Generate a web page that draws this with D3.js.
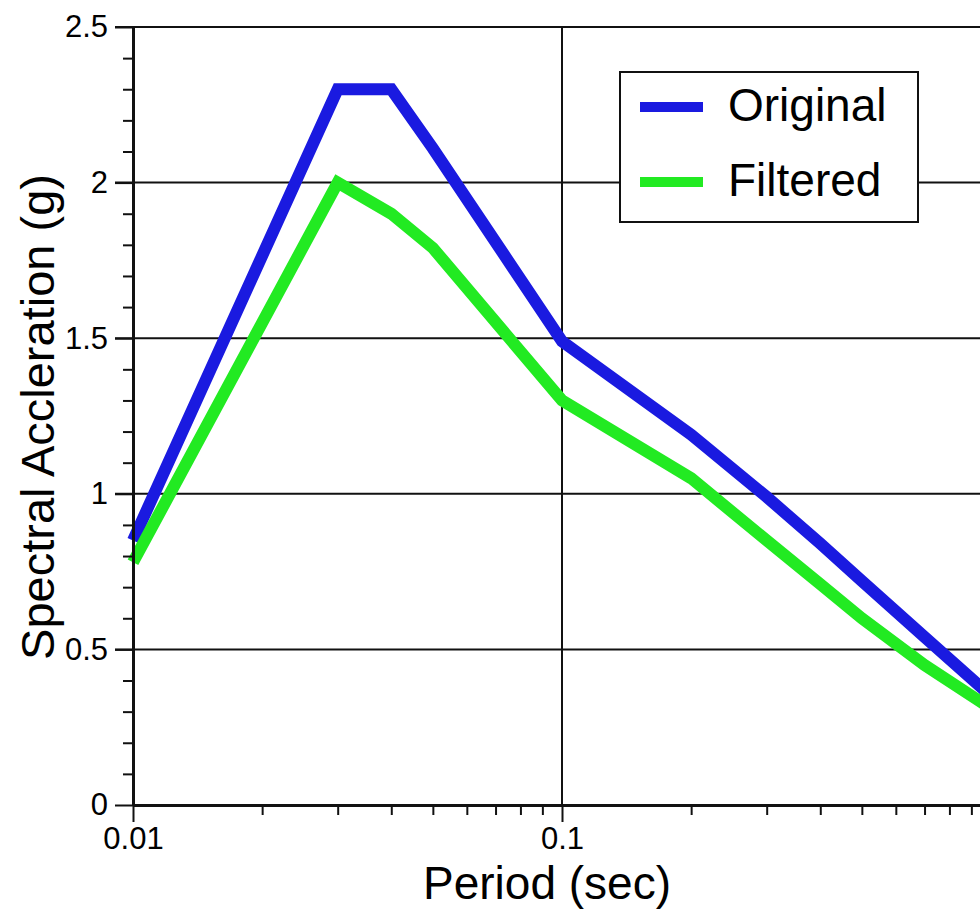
<!DOCTYPE html>
<html><head><meta charset="utf-8">
<script src="https://cdn.jsdelivr.net/npm/d3@7"></script>
<style>
body{margin:0;background:#fff}
svg{display:block}
text{font-family:"Liberation Sans",Arial,Helvetica,sans-serif;fill:#000}
</style>
</head><body><svg id="c" width="980" height="911"></svg>
<script>
// ---- data ----
const periods  = [0.01, 0.03, 0.04, 0.05, 0.1, 0.2, 0.3, 0.4, 0.5, 0.7, 1.0];
const original = [0.85, 2.30, 2.30, 2.11, 1.49, 1.19, 0.99, 0.84, 0.72, 0.54, 0.35];
const filtered = [0.78, 2.00, 1.90, 1.79, 1.30, 1.05, 0.85, 0.71, 0.60, 0.45, 0.31];
const seriesNames  = ["Original", "Filtered"];
const seriesColors = ["#1a1ae0", "#22ea22"];
const yTickValues  = [0, 0.5, 1, 1.5, 2, 2.5];
const xTickValues  = [0.01, 0.1, 1];
const xTickLabels  = ["0.01", "0.1", "1"];
const xTitle = "Period (sec)";
const yTitle = "Spectral Accleration (g)";

// ---- chart ----
const svg = d3.select("#c");
const x = d3.scaleLog().domain([0.01, 1]).range([133, 991]);
const y = d3.scaleLinear().domain([0, 2.5]).range([805, 27]);

// gridlines
const grid = svg.append("g");
grid.selectAll("line.h").data(yTickValues.filter(d => d > 0)).join("line")
  .attr("x1", 115).attr("x2", 995)
  .attr("y1", d => y(d)).attr("y2", d => y(d))
  .attr("stroke", "#111").attr("stroke-width", 2);
grid.selectAll("line.v").data(xTickValues.slice(1)).join("line")
  .attr("x1", d => x(d)).attr("x2", d => x(d))
  .attr("y1", y(2.5)).attr("y2", y(0))
  .attr("stroke", "#111").attr("stroke-width", 2);

// series
const line = d3.line().x(d => x(d[0])).y(d => y(d[1]));
[original, filtered].forEach((vals, i) => {
  svg.append("path")
    .datum(periods.map((p, j) => [p, vals[j]]))
    .attr("d", line)
    .attr("fill", "none")
    .attr("stroke", seriesColors[i])
    .attr("stroke-width", 12)
    .attr("stroke-linejoin", "miter");
});

// minor ticks
const yMinor = d3.range(0, 2.51, 0.1).map(d => +d.toFixed(1)).filter(d => !yTickValues.includes(d));
svg.append("g").attr("transform", "translate(133,0)")
  .call(d3.axisLeft(y).tickValues(yMinor).tickSize(10).tickSizeOuter(0).tickFormat(""))
  .call(g => g.select(".domain").remove())
  .call(g => g.selectAll("line").attr("stroke", "#111").attr("stroke-width", 2));
const xMinor = [];
[0.01, 0.1].forEach(b => { for (let k = 2; k <= 9; k++) xMinor.push(+(b * k).toFixed(3)); });
svg.append("g").attr("transform", "translate(0,805)")
  .call(d3.axisBottom(x).tickValues(xMinor).tickSize(10).tickSizeOuter(0).tickFormat(""))
  .call(g => g.select(".domain").remove())
  .call(g => g.selectAll("line").attr("stroke", "#111").attr("stroke-width", 2));

// major axes
svg.append("g").attr("transform", "translate(133,0)")
  .call(d3.axisLeft(y).tickValues(yTickValues).tickSize(18).tickSizeOuter(0).tickPadding(7).tickFormat(d3.format("")))
  .call(g => g.select(".domain").attr("stroke", "#111").attr("stroke-width", 3))
  .call(g => g.selectAll("line").attr("stroke", "#111").attr("stroke-width", 2))
  .call(g => g.selectAll("text").attr("font-size", 31).attr("font-family", null).attr("fill", "#000"));
svg.append("g").attr("transform", "translate(0,805)")
  .call(d3.axisBottom(x).tickValues(xTickValues).tickSize(17).tickSizeOuter(0).tickPadding(5)
    .tickFormat((d, i) => xTickLabels[i]))
  .call(g => g.select(".domain").attr("stroke", "#111").attr("stroke-width", 3))
  .call(g => g.selectAll("line").attr("stroke", "#111").attr("stroke-width", 2))
  .call(g => g.selectAll("text").attr("font-size", 31).attr("font-family", null).attr("fill", "#000"));

// titles
svg.append("text").attr("x", 547).attr("y", 899).attr("text-anchor", "middle")
  .attr("font-size", 46).text(xTitle);
svg.append("text").attr("transform", "translate(54,417) rotate(-90)").attr("text-anchor", "middle")
  .attr("font-size", 47).text(yTitle);

// legend
const lg = svg.append("g");
lg.append("rect").attr("x", 620).attr("y", 72).attr("width", 298).attr("height", 150)
  .attr("fill", "#fff").attr("stroke", "#111").attr("stroke-width", 2);
seriesNames.forEach((name, i) => {
  const cy = 107 + i * 75;
  lg.append("line").attr("x1", 640).attr("x2", 703).attr("y1", cy).attr("y2", cy)
    .attr("stroke", seriesColors[i]).attr("stroke-width", 10);
  lg.append("text").attr("x", 728).attr("y", cy + 14).attr("font-size", 46).text(name);
});
</script>
</body></html>
